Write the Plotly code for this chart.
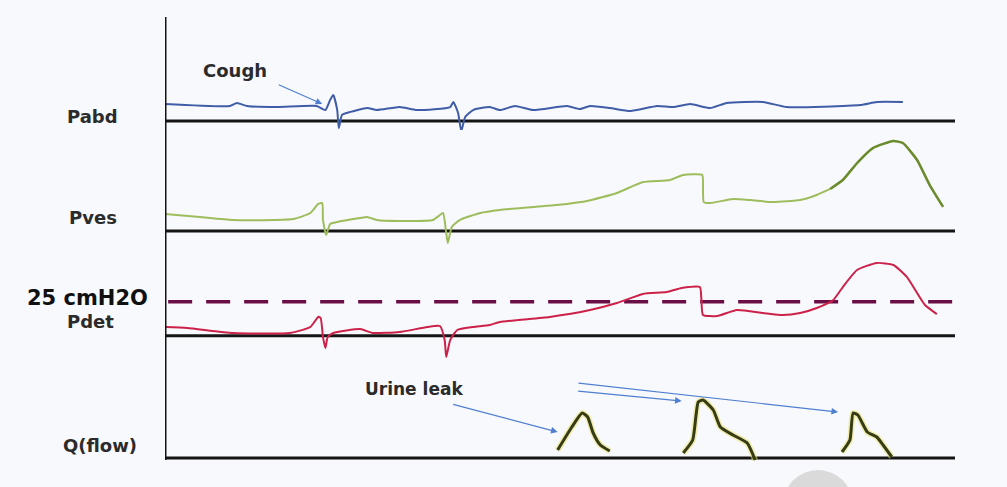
import plotly.graph_objects as go

# ---------------- data (time in s, pressures in cmH2O, flow in ml/s) ----------------
t_pabd = [0, 8.2, 9.1, 10.4, 14.2, 19.2, 20.3, 20.9, 21.3, 21.8, 22.0, 22.4, 23.0, 25.6, 26.8,
          29.7, 31.9, 36.1, 36.5, 37.1, 37.5, 38.0, 39.0, 41.1, 42.4, 44.3, 46.6, 50.9, 52.5,
          53.8, 56.3, 58.9, 62.3, 64.3, 66.5, 69.0, 71.1, 75.7, 78.7, 88.0, 90.1, 93.4]
pabd = [11.8, 10.4, 12.5, 10.4, 9.7, 10.4, 7.6, 14.6, 18.1, 7.6, -4.9, 4.2, 5.6, 9.0, 7.6,
        9.7, 7.6, 9.7, 13.2, 5.6, -6.9, 2.8, 7.6, 9.7, 7.6, 10.4, 7.6, 10.4, 8.3,
        10.4, 9.0, 6.9, 10.4, 9.7, 11.8, 9.0, 12.5, 13.2, 9.7, 11.1, 13.2, 13.2]

t_pves = [0, 4.4, 8.6, 16.2, 18.4, 19.4, 19.9, 20.0, 20.4, 20.9, 21.8, 24.7, 25.6, 26.8, 29.7,
          33.9, 34.8, 35.2, 35.6, 35.8, 36.3, 37.3, 39.9, 42.4, 46.6, 50.9, 53.4, 57.2, 60.5,
          63.9, 65.6, 68.0, 68.1, 68.2, 69.0, 71.9, 74.1, 77.0, 80.4, 82.5, 84.2, 85.8, 87.6,
          89.6, 92.2, 93.4, 95.2, 96.8, 98.5]
pves = [11.8, 9.7, 7.6, 8.3, 12.5, 18.8, 19.4, 7.6, -2.8, 4.9, 6.3, 9.0, 9.7, 7.6, 6.9,
        7.6, 11.1, 12.5, -1.4, -8.3, 2.8, 7.6, 12.5, 14.6, 16.7, 18.8, 20.8, 26.4, 34.0,
        35.4, 38.9, 38.9, 30.6, 20.1, 19.4, 22.2, 21.5, 20.1, 21.5, 25.0, 29.2, 35.4, 47.2,
        57.6, 62.5, 61.1, 49.3, 31.9, 16.7]

t_pdet = [0, 2.8, 8.6, 15.8, 18.4, 19.4, 19.7, 20.0, 20.3, 20.6, 21.3, 24.7, 26.3, 29.7, 33.2,
          34.8, 35.4, 35.6, 36.1, 37.0, 39.0, 41.1, 42.4, 48.7, 53.8, 57.2, 60.5, 63.5, 65.4,
          67.7, 67.9, 68.1, 69.9, 72.4, 75.7, 78.2, 80.4, 82.5, 84.6, 85.8, 87.6, 90.1, 92.2,
          93.9, 95.2, 96.2, 97.7]
pdet = [6.4, 5.7, 2.0, 2.0, 6.4, 13.8, 13.0, -1.0, -9.0, -1.0, 2.0, 4.9, 2.0, 2.7, 6.4,
        7.1, -3.2, -15.7, -3.2, 4.2, 6.4, 7.9, 10.1, 13.8, 18.9, 24.0, 30.7, 32.1, 35.1,
        35.8, 26.3, 15.2, 14.5, 18.9, 16.7, 15.2, 16.7, 20.4, 26.3, 35.8, 48.3, 53.5, 52.0,
        43.2, 31.4, 22.6, 15.9]

t_flow = [49.7, 51.5, 52.8, 53.5, 54.2, 55.1, 56.3, None,
          65.6, 66.8, 67.5, 68.1, 69.4, 70.3, 71.9, 73.7, 74.7, None,
          85.7, 86.7, 87.1, 87.7, 88.9, 90.1, 90.9, 92.0]
flow = [4.0, 15.5, 22.5, 20.5, 12.5, 6.5, 3.5, None,
        2.5, 9.0, 28.0, 29.0, 24.0, 15.5, 11.5, 7.5, -1.0, None,
        3.0, 9.0, 22.5, 21.5, 13.0, 10.5, 6.5, 0.5]

threshold_pdet = 25
t_end = 100
row_labels = ["Pabd", "Pves", "Pdet", "Q(flow)"]
threshold_label = "25 cmH2O"

# ---------------- layout helpers ----------------
W, H = 1007, 487
L, R = 165, 965


def xp(px):
    return (px - L) / (R - L)


def yp(py):
    return 1 - py / H


def panel(base_px, top_px, bot_px, scale):
    return dict(domain=[yp(bot_px), yp(top_px)],
                range=[(base_px - bot_px) / scale, (base_px - top_px) / scale],
                visible=False, showgrid=False, zeroline=False, fixedrange=True)


x_range = [0, (R - L) / 7.9]
SMOOTH = dict(shape="spline", smoothing=0.5)

fig = go.Figure()
BLUE = "#3f5da6"
fig.add_trace(go.Scatter(x=t_pabd, y=pabd, mode="lines", yaxis="y",
                         line=dict(color=BLUE, width=2, **SMOOTH), showlegend=False))
split = t_pves.index(84.2)
fig.add_trace(go.Scatter(x=t_pves[:split + 1], y=pves[:split + 1], mode="lines", yaxis="y2",
                         line=dict(color="#9dbd5c", width=2, **SMOOTH), showlegend=False))
fig.add_trace(go.Scatter(x=t_pves[split:], y=pves[split:], mode="lines", yaxis="y2",
                         line=dict(color="#6a8a2c", width=2.5, **SMOOTH), showlegend=False))
fig.add_trace(go.Scatter(x=[0.4, x_range[1]], y=[threshold_pdet, threshold_pdet], mode="lines",
                         yaxis="y3", line=dict(color="#6a0f45", width=3.5, dash="24px,14px"),
                         showlegend=False))
fig.add_trace(go.Scatter(x=t_pdet, y=pdet, mode="lines", yaxis="y3",
                         line=dict(color="#cc2149", width=2, **SMOOTH), showlegend=False))
fig.add_trace(go.Scatter(x=t_flow, y=flow, mode="lines", yaxis="y4", connectgaps=False,
                         line=dict(color="rgba(235,225,110,0.55)", width=6, **SMOOTH),
                         showlegend=False))
fig.add_trace(go.Scatter(x=t_flow, y=flow, mode="lines", yaxis="y4", connectgaps=False,
                         line=dict(color="#353c16", width=3, **SMOOTH), showlegend=False))

shapes = []
# vertical axis
shapes.append(dict(type="line", xref="x", yref="paper", x0=0, x1=0, y0=yp(460), y1=yp(17),
                   line=dict(color="#151515", width=3)))
# baselines
for ax in ["y", "y2", "y3", "y4"]:
    shapes.append(dict(type="line", xref="x", yref=ax, x0=0, x1=t_end, y0=0, y1=0,
                       line=dict(color="#151515", width=3), layer="below"))
# watermark circle
shapes.append(dict(type="circle", xref="paper", yref="paper", x0=xp(783), x1=xp(853),
                   y0=yp(540), y1=yp(470), line=dict(color="#d8d8d8", width=0),
                   fillcolor="#dadada", layer="below"))

annotations = []
LBL = dict(family="DejaVu Sans", size=18, color="#2b2b2b")
for label, (cx, cy) in zip(row_labels, [(92, 117), (93, 217), (90, 321), (100, 445)]):
    annotations.append(dict(text="<b>" + label + "</b>", xref="paper", yref="paper",
                            x=xp(cx), y=yp(cy), showarrow=False, font=LBL,
                            xanchor="center", yanchor="middle"))
annotations.append(dict(text="<b>" + threshold_label + "</b>", xref="paper", yref="paper",
                        x=xp(87), y=yp(298), showarrow=False,
                        font=dict(family="DejaVu Sans", size=21, color="#111111"),
                        xanchor="center", yanchor="middle"))
annotations.append(dict(text="<b>Cough</b>", xref="paper", yref="paper", x=xp(235), y=yp(70),
                        showarrow=False, font=LBL, xanchor="center", yanchor="middle"))
annotations.append(dict(text="<b>Urine leak</b>", xref="paper", yref="paper", x=xp(414), y=yp(389),
                        showarrow=False, font=dict(family="DejaVu Sans", size=17, color="#2b2b2b"),
                        xanchor="center", yanchor="middle"))

ARROW = "#4f7fd0"
arrows = [("x", "y", 19.9, 11.8, -45, -20),
          ("x", "y4", 49.7, 13.0, -106, -28),
          ("x", "y4", 65.4, 28.5, -105, -10),
          ("x", "y4", 85.2, 23.0, -261, -29)]
for xr, yr, x, y, ax, ay in arrows:
    annotations.append(dict(text="", xref=xr, yref=yr, x=x, y=y, ax=ax, ay=ay,
                            showarrow=True, arrowhead=2, arrowsize=1.1, arrowwidth=1.2,
                            arrowcolor=ARROW))

BG = "#f8f9fc"
fig.update_layout(
    width=W, height=H,
    margin=dict(l=L, r=W - R, t=0, b=0),
    paper_bgcolor=BG, plot_bgcolor=BG,
    xaxis=dict(range=x_range, visible=False, showgrid=False, zeroline=False, fixedrange=True),
    yaxis=panel(121, 55, 140, 1.44),
    yaxis2=panel(231, 130, 252, 1.44),
    yaxis3=panel(335.7, 250, 368, 1.36),
    yaxis4=panel(458, 370, 468, 2.0),
    shapes=shapes,
    annotations=annotations,
    showlegend=False,
    hovermode=False,
)

fig.write_html("out.html",
               config={"displayModeBar": False, "staticPlot": True},
               post_script="document.body.style.margin='0';document.body.style.overflow='hidden';"
                           "document.body.style.background='#f8f9fc';")
